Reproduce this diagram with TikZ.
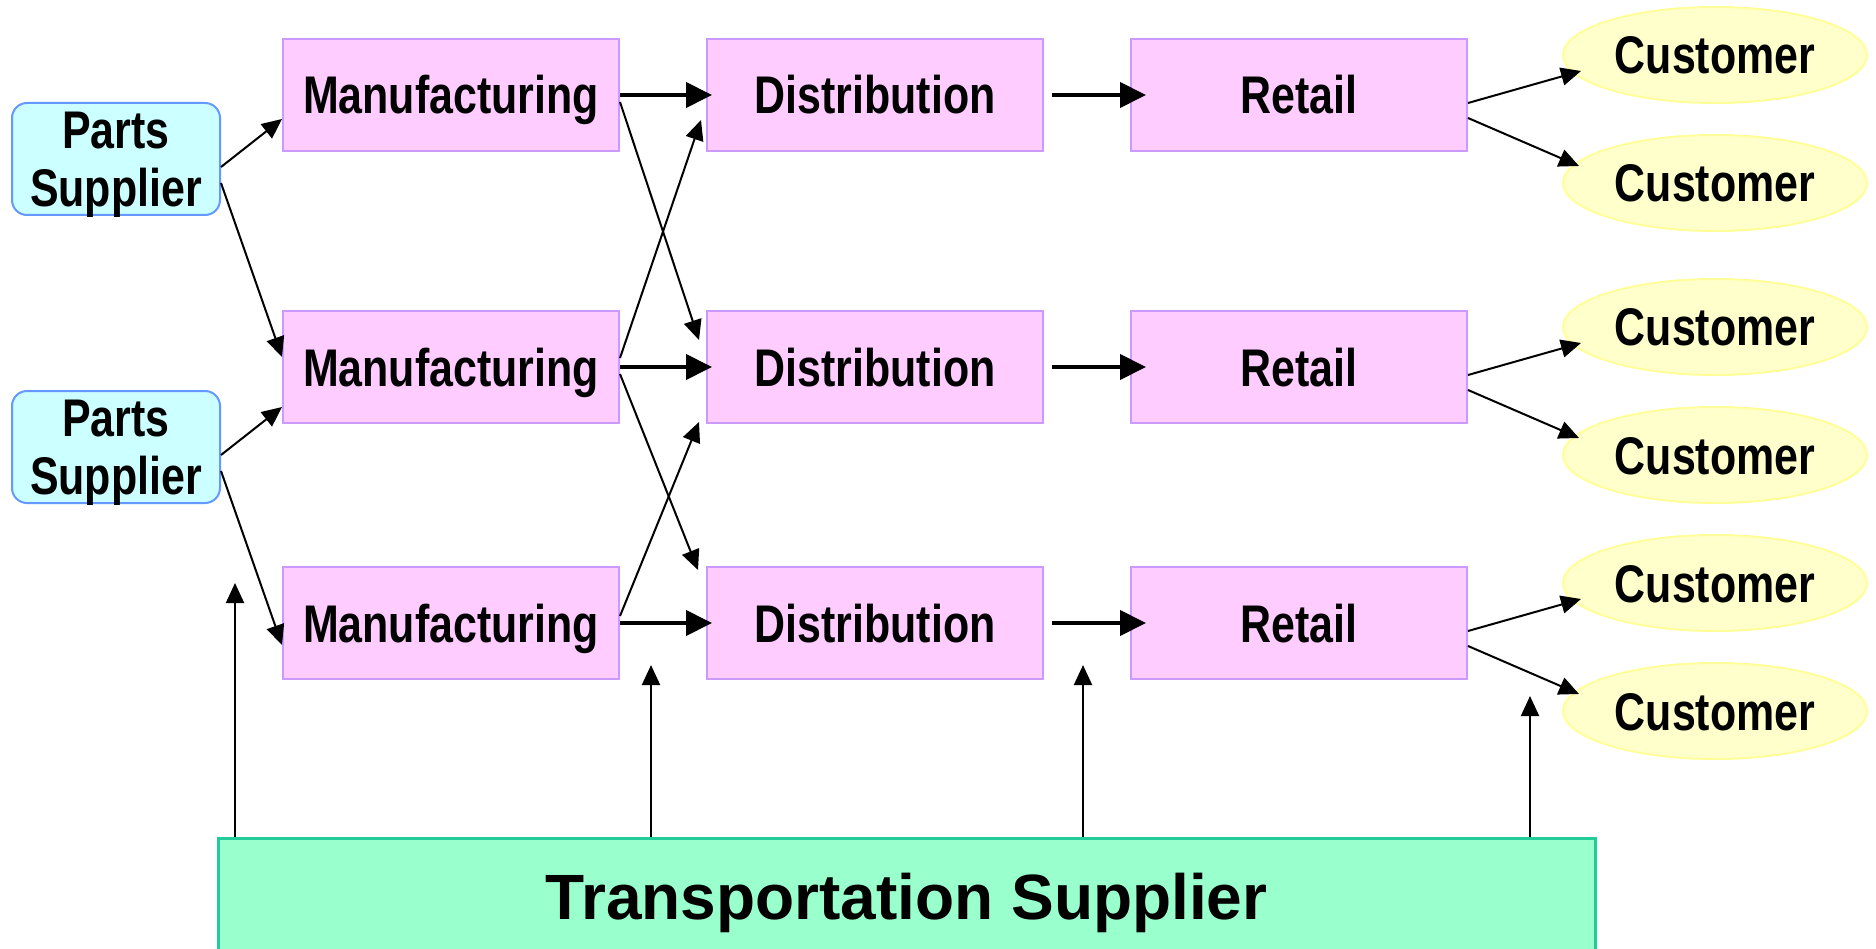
\documentclass[tikz,border=0pt]{standalone}
\usepackage{fontspec}
\setmainfont{Liberation Sans}
\newfontfamily\narrowbold{Liberation Sans Bold}[FakeStretch=0.81]
\newfontfamily\widebold{Liberation Sans Bold}
\usetikzlibrary{arrows.meta,shapes.geometric,calc}

\definecolor{stagefill}{HTML}{FFCCFF}
\definecolor{stageline}{HTML}{CC99FF}
\definecolor{partsfill}{HTML}{CCFFFF}
\definecolor{partsline}{HTML}{6699FF}
\definecolor{custfill}{HTML}{FFFFCC}
\definecolor{custline}{HTML}{FFFF99}
\definecolor{transfill}{HTML}{99FFCC}
\definecolor{transline}{HTML}{22CC99}

\begin{document}
\begin{tikzpicture}[x=1pt,y=-1pt,
  stage/.style={draw=stageline, line width=2pt, fill=stagefill,
    minimum width=336pt, minimum height=112pt, inner sep=0pt,
    font=\narrowbold\fontsize{53}{58}\selectfont,
    text height=38pt, text depth=0pt},
  parts/.style={draw=partsline, line width=2pt, fill=partsfill,
    rounded corners=15pt, minimum width=208pt, minimum height=112pt,
    inner sep=0pt, align=center, text depth=0pt,
    font=\narrowbold\fontsize{53}{58}\selectfont},
  customer/.style={ellipse, draw=custline, line width=2pt, fill=custfill,
    minimum width=304pt, minimum height=96pt, inner sep=0pt,
    font=\narrowbold\fontsize{53}{58}\selectfont,
    text height=38pt, text depth=0pt},
  transport/.style={draw=transline, line width=3pt, fill=transfill,
    minimum width=1377pt, minimum height=116pt, inner sep=0pt,
    font=\widebold\fontsize{64}{70}\selectfont,
    text height=46pt, text depth=0pt},
  link/.style={line width=2pt, -{Triangle[length=20pt,width=18pt]}},
  flow/.style={line width=4pt, -{Triangle[length=26pt,width=25pt]}}
]
\clip (0,0) rectangle (1876,949);
\fill[white] (0,0) rectangle (1876,949);

% suppliers of parts
\node[parts] (ps1) at (116,159) {Parts\\Supplier};
\node[parts] (ps2) at (116,447) {Parts\\Supplier};

% three parallel chains
\node[stage] (m1) at (451,95)  {Manufacturing};
\node[stage] (m2) at (451,367) {Manufacturing};
\node[stage] (m3) at (451,623) {Manufacturing};
\node[stage] (d1) at (875,95)  {Distribution};
\node[stage] (d2) at (875,367) {Distribution};
\node[stage] (d3) at (875,623) {Distribution};
\node[stage] (r1) at (1299,95)  {Retail};
\node[stage] (r2) at (1299,367) {Retail};
\node[stage] (r3) at (1299,623) {Retail};

% end customers
\node[customer] (c1) at (1715,55)  {Customer};
\node[customer] (c2) at (1715,183) {Customer};
\node[customer] (c3) at (1715,327) {Customer};
\node[customer] (c4) at (1715,455) {Customer};
\node[customer] (c5) at (1715,583) {Customer};
\node[customer] (c6) at (1715,711) {Customer};

% carrier serving every stage
\node[transport] (ts) at (906.5,896) {Transportation Supplier};

% parts to manufacturing
\draw[link] ($(ps1.east)+(0,8)$)  -- ($(m1.west)+(0,24)$);
\draw[link] ($(ps1.east)+(0,24)$) -- ($(m2.west)+(0,-10)$);
\draw[link] ($(ps2.east)+(0,8)$)  -- ($(m2.west)+(0,40)$);
\draw[link] ($(ps2.east)+(0,24)$) -- ($(m3.west)+(0,22)$);

% main flow along each chain
\foreach \i in {1,2,3}{
  \draw[flow] (m\i.east) -- ($(d\i.west)+(6,0)$);
  \draw[flow] ($(d\i.east)+(8,0)$) -- ($(r\i.west)+(16,0)$);
}

% cross deliveries between chains
\draw[link] ($(m1.east)+(0,7)$)  -- ($(d2.west)+(-7,-27)$);
\draw[link] ($(m2.east)+(0,-9)$) -- ($(d1.west)+(-5,25)$);
\draw[link] ($(m2.east)+(0,7)$)  -- ($(d3.west)+(-8,-53)$);
\draw[link] ($(m3.east)+(0,-7)$) -- ($(d2.west)+(-7,55)$);

% retail to customers
\draw[link] ($(r1.east)+(0,8)$)  -- ($(c1.west)+(19,16)$);
\draw[link] ($(r1.east)+(0,23)$) -- ($(c2.west)+(17,-17)$);
\draw[link] ($(r2.east)+(0,8)$)  -- ($(c3.west)+(19,16)$);
\draw[link] ($(r2.east)+(0,23)$) -- ($(c4.west)+(17,-17)$);
\draw[link] ($(r3.east)+(0,8)$)  -- ($(c5.west)+(19,16)$);
\draw[link] ($(r3.east)+(0,23)$) -- ($(c6.west)+(17,-17)$);

% transport feeding upward
\coordinate (v1) at (235,583);
\coordinate (v2) at (651,665);
\coordinate (v3) at (1083,665);
\coordinate (v4) at (1530,696);
\foreach \v in {v1,v2,v3,v4}
  \draw[link] (\v |- ts.north) -- (\v);
\end{tikzpicture}
\end{document}
